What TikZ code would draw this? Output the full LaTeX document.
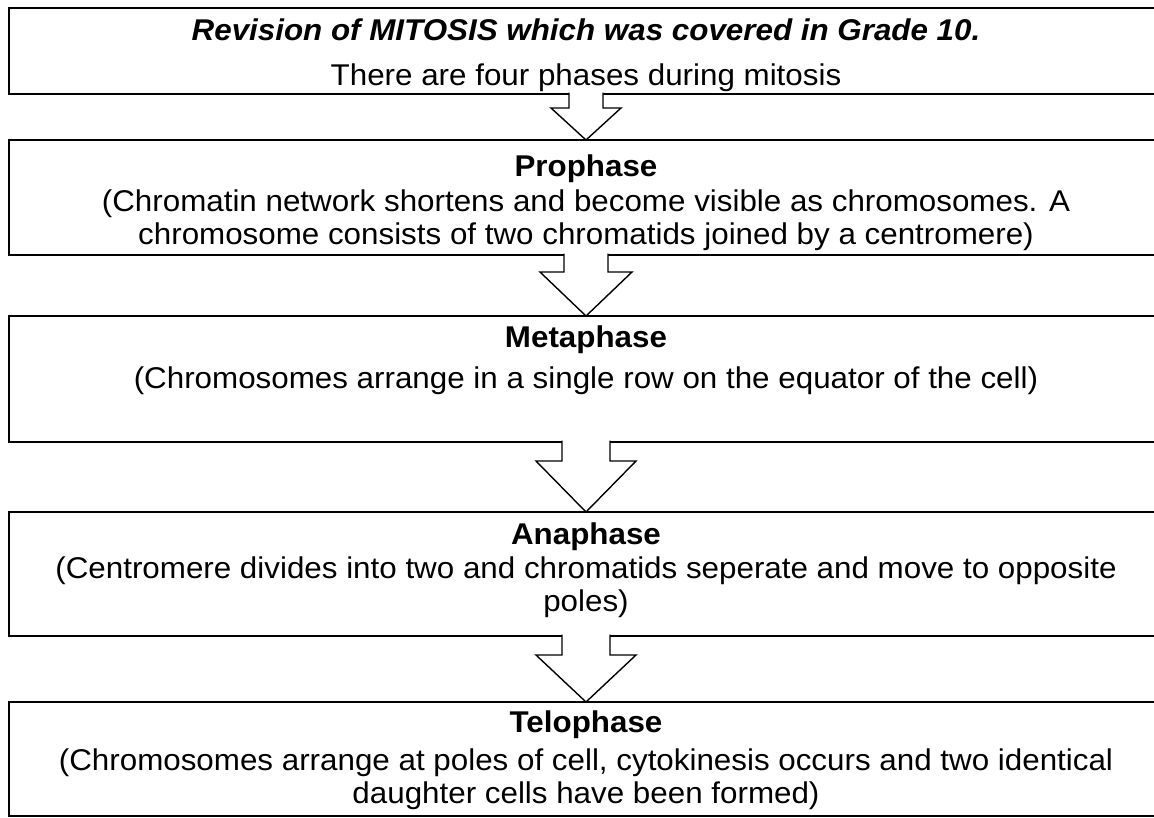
\documentclass[tikz,border=0pt]{standalone}
\usepackage{fontspec}
\setmainfont[FakeStretch=1.045]{Liberation Sans}
\usetikzlibrary{calc}
\begin{document}
\begin{tikzpicture}
[x=1pt,y=-1pt,
  phasebox/.style={shape=rectangle,draw,line width=2pt,anchor=north west,minimum width=1154pt,inner sep=0pt,outer sep=0pt},
  phasetext/.style={anchor=north,align=center,inner sep=0pt,font=\fontsize{30}{33}\selectfont},
  arrowdecorate/.style={draw,fill=white,line width=1.4pt,line join=miter}]
\useasboundingbox (0,0) rectangle (1154,817);
\clip (0,0) rectangle (1154,817);
%%% boxes for the phases
\node (b1) at (9,8) [phasebox,minimum height=86pt] {};
\node (b2) at (9,140) [phasebox,minimum height=115pt] {};
\node (b3) at (9,316) [phasebox,minimum height=126pt] {};
\node (b4) at (9,512) [phasebox,minimum height=124pt] {};
\node (b5) at (9,702) [phasebox,minimum height=114pt] {};
%%% block arrows between the boxes
\path[arrowdecorate] ($(b1.south)+(-17,-1.5)$) -- ($(b1.south)+(-17,14)$) -- ($(b1.south)+(-35,14)$)
  -- (b2.north) -- ($(b1.south)+(35,14)$) -- ($(b1.south)+(17,14)$) -- ($(b1.south)+(17,-1.5)$);
\path[arrowdecorate] ($(b2.south)+(-22,-1.5)$) -- ($(b2.south)+(-22,17)$) -- ($(b2.south)+(-46,17)$)
  -- (b3.north) -- ($(b2.south)+(46,17)$) -- ($(b2.south)+(22,17)$) -- ($(b2.south)+(22,-1.5)$);
\path[arrowdecorate] ($(b3.south)+(-24,-1.5)$) -- ($(b3.south)+(-24,19)$) -- ($(b3.south)+(-50,19)$)
  -- (b4.north) -- ($(b3.south)+(50,19)$) -- ($(b3.south)+(24,19)$) -- ($(b3.south)+(24,-1.5)$);
\path[arrowdecorate] ($(b4.south)+(-24,-1.5)$) -- ($(b4.south)+(-24,19)$) -- ($(b4.south)+(-50,19)$)
  -- (b5.north) -- ($(b4.south)+(50,19)$) -- ($(b4.south)+(24,19)$) -- ($(b4.south)+(24,-1.5)$);
%%% texts
\node (t1) at (586,19) [phasetext] {\textbf{\textit{Revision of MITOSIS which was covered in Grade 10.}}\\[12pt]
  There are four phases during mitosis};
\node (t2) at (586,155) [phasetext] {\textbf{Prophase}\\[2pt]
  (Chromatin network shortens and become visible as chromosomes. A\\
  chromosome consists of two chromatids joined by a centromere)};
\node (t3) at (586,326) [phasetext] {\textbf{Metaphase}\\[8pt]
  (Chromosomes arrange in a single row on the equator of the cell)};
\node (t4) at (586,523) [phasetext] {\textbf{Anaphase}\\[1pt]
  (Centromere divides into two and chromatids seperate and move to opposite\\
  poles)};
\node (t5) at (586,711) [phasetext] {\textbf{Telophase}\\[5pt]
  (Chromosomes arrange at poles of cell, cytokinesis occurs and two identical\\
  daughter cells have been formed)};
\end{tikzpicture}
\end{document}
